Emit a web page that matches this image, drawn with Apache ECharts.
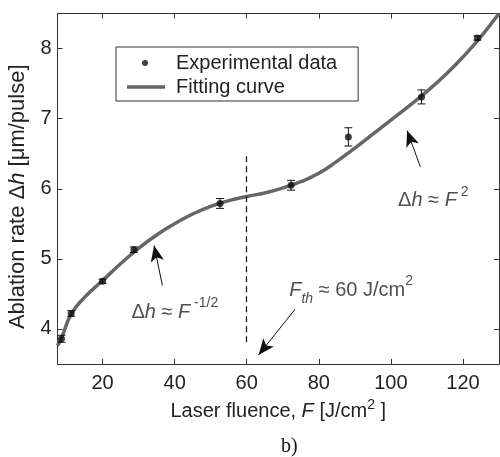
<!DOCTYPE html>
<html>
<head>
<meta charset="utf-8">
<script src="https://cdn.jsdelivr.net/npm/echarts@6/dist/echarts.min.js"></script>
<style>
html, body { margin: 0; padding: 0; background: #fff; }
#main { width: 500px; height: 457px; }
</style>
</head>
<body>
<div id="main"></div>
<script>
// measured points (laser fluence F, ablation rate dh, error)
var fluence = [8.6, 11.3, 20, 28.7, 52.6, 72.3, 88.2, 108.5, 124.0];
var rate = [3.86, 4.22, 4.68, 5.13, 5.79, 6.05, 6.74, 7.31, 8.15];
var rateErr = [0.05, 0.04, 0.03, 0.04, 0.07, 0.07, 0.13, 0.10, 0.03];

// fitting curve
var fitF = [7.5, 8.6, 11.3, 15, 20, 25, 30, 35, 40, 45, 50, 55, 60, 65, 70, 75, 80, 85, 90, 95, 100, 105, 110, 115, 120, 125, 130];
var fitRate = [3.76, 3.87, 4.21, 4.45, 4.69, 4.93, 5.15, 5.34, 5.50, 5.64, 5.75, 5.83, 5.89, 5.94, 6.01, 6.10, 6.22, 6.39, 6.58, 6.78, 6.98, 7.18, 7.39, 7.62, 7.88, 8.17, 8.50];

var xTicks = [20, 40, 60, 80, 100, 120];
var yTicks = [4, 5, 6, 7, 8];

// threshold fluence and dashed marker span
var thresholdF = 60;
var thresholdSpan = [3.81, 6.48];

// arrows: tail -> head, in data coords
var arrowFrom = [[36.6, 4.62], [108.2, 6.31], [73.4, 4.28]];
var arrowTo = [[34.3, 5.19], [104.5, 6.83], [63.3, 3.63]];

// annotation anchors (left edge, vertical middle)
var notePos = [[28, 4.24], [102, 5.83], [71.8, 4.55]];
var noteText = [
    '{t|Δ}{i|h}{t| ≈ }{i|F}{s1| -1/2}',
    '{t|Δ}{i|h}{t| ≈ }{i|F}{s| 2}',
    '{i|F}{sb|th}{t| ≈ 60 J/cm}{s|2}'
];

var FONT = 'Liberation Sans';
var INK = '#222';

var richNote = {
    t: { fontFamily: FONT, fontSize: 20, color: INK, lineHeight: 32 },
    i: { fontFamily: FONT, fontSize: 20, color: INK, lineHeight: 32, fontStyle: 'italic' },
    s: { fontFamily: FONT, fontSize: 14, color: INK, lineHeight: 18, verticalAlign: 'top' },
    s1: { fontFamily: FONT, fontSize: 14, color: INK, lineHeight: 22, verticalAlign: 'top' },
    sb: { fontFamily: FONT, fontSize: 14, color: INK, lineHeight: 10, verticalAlign: 'bottom', fontStyle: 'italic' }
};

var chart = echarts.init(document.getElementById('main'), null, { renderer: 'canvas' });

var errData = fluence.map(function (f, i) {
    return [f, rate[i] - rateErr[i], rate[i] + rateErr[i]];
});
var pts = fluence.map(function (f, i) { return [f, rate[i]]; });
var fit = fitF.map(function (f, i) { return [f, fitRate[i]]; });
var notes = notePos.map(function (p, i) {
    return { value: p, label: { formatter: noteText[i] } };
});
var arrows = arrowFrom.map(function (a, i) {
    return [{ coord: a }, { coord: arrowTo[i] }];
});

function renderErrorBar(params, api) {
    var x = api.value(0);
    var lo = api.coord([x, api.value(1)]);
    var hi = api.coord([x, api.value(2)]);
    var w = 4;
    var st = { stroke: '#111', lineWidth: 1 };
    return {
        type: 'group',
        children: [
            { type: 'line', shape: { x1: lo[0], y1: lo[1], x2: hi[0], y2: hi[1] }, style: st },
            { type: 'line', shape: { x1: lo[0] - w, y1: lo[1], x2: lo[0] + w, y2: lo[1] }, style: st },
            { type: 'line', shape: { x1: hi[0] - w, y1: hi[1], x2: hi[0] + w, y2: hi[1] }, style: st }
        ]
    };
}

var axisCommon = {
    type: 'value',
    axisLine: { show: true, onZero: false, lineStyle: { color: '#333', width: 1 } },
    axisTick: { show: true, inside: true, length: 5, lineStyle: { color: '#333' } },
    splitLine: { show: false }
};

// legend icons drawn in a 38x14 box
var dotIcon = 'path://M0,0M38,14M21,7a3,3 0 1,0 -6,0a3,3 0 1,0 6,0z';
var lineIcon = 'path://M0,0M38,14M0,5.2L38,5.2L38,8.8L0,8.8z';

var option = {
    animation: false,
    backgroundColor: '#fff',
    title: {
        text: 'b)',
        left: 281,
        top: 437,
        padding: 0,
        textStyle: { fontFamily: 'Liberation Serif', fontSize: 20, fontWeight: 'normal', color: '#111' }
    },
    grid: {
        left: 57.5,
        top: 13.5,
        right: 1,
        bottom: 93,
        containLabel: false,
        outerBoundsMode: 'none'
    },
    legend: {
        orient: 'vertical',
        left: 116,
        top: 47,
        padding: [6, 21, 4, 11],
        itemWidth: 38,
        itemHeight: 14,
        itemGap: 4,
        borderColor: '#333',
        borderWidth: 1,
        backgroundColor: '#fff',
        selectedMode: false,
        textStyle: { fontFamily: FONT, fontSize: 20, color: INK, padding: [0, 0, 0, 6] },
        data: [
            { name: 'Experimental data', icon: dotIcon },
            { name: 'Fitting curve', icon: lineIcon }
        ]
    },
    xAxis: [
        Object.assign({}, axisCommon, {
            position: 'bottom',
            min: 7.5,
            max: 130,
            axisTick: Object.assign({}, axisCommon.axisTick, { customValues: xTicks }),
            axisLabel: {
                customValues: xTicks, margin: 9,
                fontFamily: FONT, fontSize: 20, color: INK
            },
            name: 'Laser fluence, {i|F} [J/cm{s|2} ]',
            nameLocation: 'middle',
            nameGap: 26,
            nameTextStyle: {
                fontFamily: FONT, fontSize: 20, color: INK, lineHeight: 28,
                rich: {
                    i: { fontFamily: FONT, fontSize: 20, color: INK, lineHeight: 28, fontStyle: 'italic' },
                    s: { fontFamily: FONT, fontSize: 14, color: INK, lineHeight: 16, verticalAlign: 'top' }
                }
            }
        }),
        Object.assign({}, axisCommon, {
            position: 'top',
            min: 7.5,
            max: 130,
            axisTick: Object.assign({}, axisCommon.axisTick, { customValues: xTicks }),
            axisLabel: { show: false }
        })
    ],
    yAxis: [
        Object.assign({}, axisCommon, {
            position: 'left',
            min: 3.5,
            max: 8.5,
            axisTick: Object.assign({}, axisCommon.axisTick, { customValues: yTicks }),
            axisLabel: {
                customValues: yTicks, margin: 6,
                fontFamily: FONT, fontSize: 20, color: INK
            },
            name: 'Ablation rate Δ{i|h} [μm/pulse]',
            nameLocation: 'middle',
            nameGap: 27,
            nameTextStyle: {
                fontFamily: FONT, fontSize: 22, color: INK, lineHeight: 24,
                padding: [0, 16, 0, 0],
                rich: {
                    i: { fontFamily: FONT, fontSize: 22, color: INK, lineHeight: 24, fontStyle: 'italic' }
                }
            }
        }),
        Object.assign({}, axisCommon, {
            position: 'right',
            min: 3.5,
            max: 8.5,
            axisTick: Object.assign({}, axisCommon.axisTick, { customValues: yTicks }),
            axisLabel: { show: false }
        })
    ],
    series: [
        {
            name: 'Fitting curve',
            type: 'line',
            data: fit,
            smooth: true,
            symbol: 'none',
            clip: true,
            color: '#666',
            lineStyle: { color: '#666', width: 3.5 },
            z: 2,
            markLine: {
                silent: true,
                symbol: ['none', 'none'],
                label: { show: false },
                lineStyle: { color: '#111', width: 1.2, type: [6, 4] },
                data: [[{ coord: [thresholdF, thresholdSpan[0]] }, { coord: [thresholdF, thresholdSpan[1]] }]]
            }
        },
        {
            type: 'custom',
            renderItem: renderErrorBar,
            data: errData,
            encode: { x: 0, y: [1, 2] },
            silent: true,
            z: 3
        },
        {
            name: 'Experimental data',
            type: 'scatter',
            data: pts,
            symbolSize: 7,
            color: '#111',
            itemStyle: { color: '#111' },
            z: 4
        },
        {
            type: 'scatter',
            data: notes,
            symbolSize: 0,
            silent: true,
            label: {
                show: true,
                position: 'right',
                distance: 0,
                rich: richNote
            },
            markLine: {
                silent: true,
                symbol: ['none', 'arrow'],
                symbolSize: [10, 16],
                label: { show: false },
                lineStyle: { color: '#111', width: 1, type: 'solid' },
                itemStyle: { color: '#111' },
                data: arrows
            }
        }
    ]
};

chart.setOption(option);
</script>
</body>
</html>
